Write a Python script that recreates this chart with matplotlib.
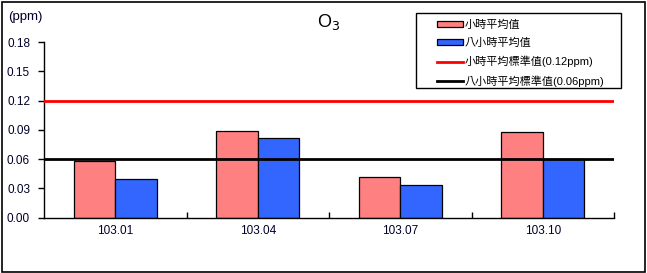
import numpy as np
import matplotlib
matplotlib.use('Agg')
import matplotlib.pyplot as plt
from matplotlib.patches import Rectangle, Patch
from matplotlib.lines import Line2D

plt.rcParams['font.family'] = ['Liberation Sans', 'Noto Sans CJK TC', 'DejaVu Sans']

periods = ['103.01', '103.04', '103.07', '103.10']
hourly_avg = [0.058, 0.089, 0.042, 0.088]
eight_hour_avg = [0.040, 0.082, 0.033, 0.060]
hourly_std = 0.12
eight_hour_std = 0.06

labels = ['小時平均值', '八小時平均值', '小時平均標準值(0.12ppm)', '八小時平均標準值(0.06ppm)']

pink = '#FF8080'
blue = '#3366FF'
txt = '#000028'

W, H = 647, 273
fig = plt.figure(figsize=(W / 100, H / 100), dpi=100)
ax = fig.add_axes([44 / W, 1 - 217.7 / H, 570 / W, 175.7 / H])

x = np.arange(len(periods))
bw = 0.29
ax.bar(x - bw / 2, hourly_avg, bw, color=pink, edgecolor='black', linewidth=0.9, zorder=2)
ax.bar(x + bw / 2, eight_hour_avg, bw, color=blue, edgecolor='black', linewidth=0.9, zorder=2)
ax.axhline(hourly_std, color='red', lw=2, zorder=3)
ax.axhline(eight_hour_std, color='black', lw=2, zorder=3)

ax.set_xlim(-0.5, len(periods) - 0.5)
ax.set_ylim(0, 0.18)
ax.set_yticks(np.arange(0, 0.181, 0.03))
ax.set_yticklabels(['%.2f' % v for v in np.arange(0, 0.181, 0.03)])
ax.set_xticks(x)
ax.set_xticklabels(periods)
ax.set_xticks(np.arange(0.5, len(periods), 1), minor=True)
ax.tick_params(axis='y', direction='out', length=4, width=1, pad=6, labelsize=8.5, labelcolor=txt)
ax.tick_params(axis='x', which='major', length=0, pad=5, labelsize=8.5, labelcolor=txt)
ax.tick_params(axis='x', which='minor', direction='in', length=4, width=1)
for s in ['top', 'right']:
    ax.spines[s].set_visible(False)
for s in ['left', 'bottom']:
    ax.spines[s].set_linewidth(1)

fig.text(329 / W, 1 - 22 / H, 'O$_3$', ha='center', va='center', fontsize=13, color='black')
fig.text(8 / W, 1 - 17 / H, '(ppm)', ha='left', va='center', fontsize=9.5, color=txt)

# legend box
fig.patches.append(Rectangle((416 / W, 1 - 88 / H), 205 / W, 75 / H, transform=fig.transFigure,
                             facecolor='white', edgecolor='black', linewidth=1, zorder=5))
handles = [Patch(facecolor=pink, edgecolor='black', linewidth=0.9),
           Patch(facecolor=blue, edgecolor='black', linewidth=0.9),
           Line2D([], [], color='red', lw=2),
           Line2D([], [], color='black', lw=2)]
leg = fig.legend(handles, labels, loc='upper left', bbox_to_anchor=(433 / W, 1 - 15 / H),
                 frameon=False, fontsize=8, handlelength=2.3, handleheight=0.5,
                 handletextpad=0.18, labelspacing=0.72, borderaxespad=0)
leg.set_zorder(6)

# outer border
fig.patches.append(Rectangle((1.5 / W, 1.5 / H), (W - 3.5) / W, (H - 3.5) / H, transform=fig.transFigure,
                             facecolor='none', edgecolor='black', linewidth=1.2, zorder=10))

fig.savefig('out.png', dpi=100)
